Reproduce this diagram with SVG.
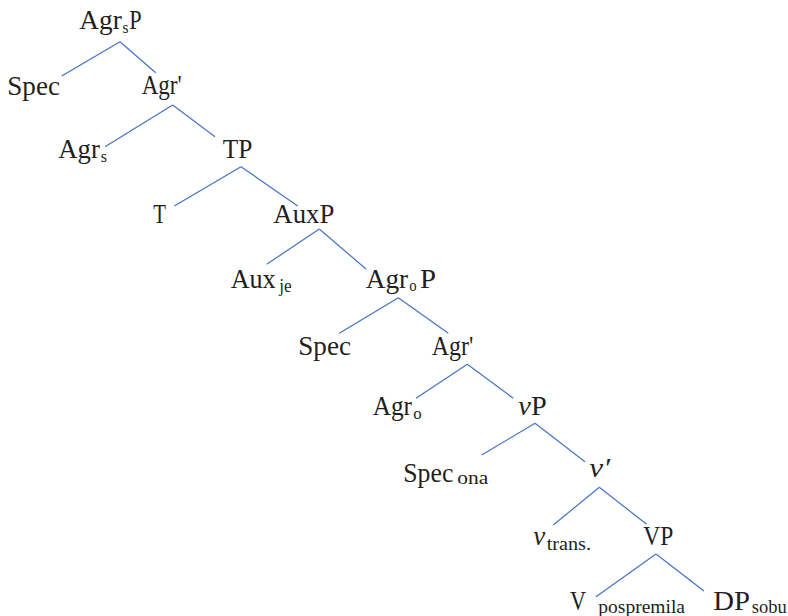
<svg xmlns="http://www.w3.org/2000/svg" width="788" height="616" viewBox="0 0 788 616">
<style>
text{font-family:"Liberation Serif","Times New Roman",serif;font-size:27px;fill:#231f20}
.s{font-size:19px}
.t{font-size:16px}
.i{font-style:italic}
#edges line{stroke:#4472c4;stroke-width:1.2;fill:none}
</style>
<rect width="788" height="616" fill="#fff"/>
<g id="edges">
<line x1="120" y1="41.7" x2="61.7" y2="76"/><line x1="120" y1="41.7" x2="155.7" y2="72.7"/>
<line x1="172.7" y1="105" x2="105" y2="146.7"/><line x1="172.7" y1="105" x2="215" y2="136.7"/>
<line x1="241" y1="166.7" x2="174.3" y2="206"/><line x1="241" y1="166.7" x2="297.7" y2="206"/>
<line x1="319.3" y1="229" x2="266.7" y2="264.3"/><line x1="319.3" y1="229" x2="366" y2="269"/>
<line x1="398.3" y1="297.7" x2="339.3" y2="333.3"/><line x1="398.3" y1="297.7" x2="448.3" y2="333.3"/>
<line x1="467.3" y1="364.3" x2="416" y2="398.3"/><line x1="467.3" y1="364.3" x2="513.3" y2="398.3"/>
<line x1="535" y1="423.3" x2="481.7" y2="455"/><line x1="535" y1="423.3" x2="585" y2="461.7"/>
<line x1="599.3" y1="487.3" x2="553.3" y2="525"/><line x1="599.3" y1="487.3" x2="646.7" y2="524.3"/>
<line x1="656" y1="554" x2="596" y2="596.7"/><line x1="656" y1="554" x2="704" y2="591"/>
</g>
<g id="AgrsP"><text x="79.3" y="29.3" textLength="42.5" lengthAdjust="spacingAndGlyphs">Agr</text><text class="t" x="122.5" y="33" textLength="6" lengthAdjust="spacingAndGlyphs">s</text><text x="129.3" y="29.3" textLength="12.4" lengthAdjust="spacingAndGlyphs">P</text></g>
<g id="Spec1"><text x="7.3" y="95" textLength="52.7" lengthAdjust="spacingAndGlyphs">Spec</text></g>
<g id="Agr1"><text x="141.7" y="94.3" textLength="40" lengthAdjust="spacingAndGlyphs">Agr'</text></g>
<g id="Agrs"><text x="58.3" y="158.3" textLength="41.5" lengthAdjust="spacingAndGlyphs">Agr</text><text class="t" x="100.7" y="162.3">s</text></g>
<g id="TP"><text x="222.7" y="158.3" textLength="29.6" lengthAdjust="spacingAndGlyphs">TP</text></g>
<g id="T"><text x="153.3" y="223.3" textLength="12.7" lengthAdjust="spacingAndGlyphs">T</text></g>
<g id="AuxP"><text x="273.3" y="223.3" textLength="61" lengthAdjust="spacingAndGlyphs">AuxP</text></g>
<g id="Auxje"><text x="230.7" y="288.3" textLength="45" lengthAdjust="spacingAndGlyphs">Aux</text><text class="s" x="279.3" y="292" textLength="12.4" lengthAdjust="spacingAndGlyphs">je</text></g>
<g id="AgroP"><text x="365.7" y="288.3" textLength="42.5" lengthAdjust="spacingAndGlyphs">Agr</text><text class="t" x="409.3" y="291" textLength="7.4" lengthAdjust="spacingAndGlyphs">o</text><text x="420" y="288.3" textLength="16" lengthAdjust="spacingAndGlyphs">P</text></g>
<g id="Spec2"><text x="298.3" y="355" textLength="52.7" lengthAdjust="spacingAndGlyphs">Spec</text></g>
<g id="Agr2"><text x="431.7" y="355" textLength="41.6" lengthAdjust="spacingAndGlyphs">Agr'</text></g>
<g id="Agro"><text x="372.7" y="415" textLength="39.3" lengthAdjust="spacingAndGlyphs">Agr</text><text class="t" x="413.3" y="419" textLength="8.4" lengthAdjust="spacingAndGlyphs">o</text></g>
<g id="vP"><text x="518.3" y="415" textLength="28.4" lengthAdjust="spacingAndGlyphs"><tspan class="i">v</tspan>P</text></g>
<g id="Specona"><text x="403.3" y="481.7" textLength="50" lengthAdjust="spacingAndGlyphs">Spec</text><text class="s" x="457.3" y="484" textLength="31" lengthAdjust="spacingAndGlyphs">ona</text></g>
<g id="vbar"><text class="i" x="589.3" y="477.3" textLength="20.7" lengthAdjust="spacingAndGlyphs">v′</text></g>
<g id="vtrans"><text class="i" x="533.3" y="545">v</text><text class="s" x="546.7" y="550" textLength="44.3" lengthAdjust="spacingAndGlyphs">trans.</text></g>
<g id="VP"><text x="643.3" y="545" textLength="30" lengthAdjust="spacingAndGlyphs">VP</text></g>
<g id="Vpospremila"><text x="570" y="610" textLength="16" lengthAdjust="spacingAndGlyphs">V</text><text class="s" x="598.3" y="612.7" textLength="86.7" lengthAdjust="spacingAndGlyphs">pospremila</text></g>
<g id="DPsobu"><text x="713.3" y="610" textLength="36.7" lengthAdjust="spacingAndGlyphs">DP</text><text class="s" x="751.7" y="612.5" textLength="35" lengthAdjust="spacingAndGlyphs">sobu</text></g>
</svg>
